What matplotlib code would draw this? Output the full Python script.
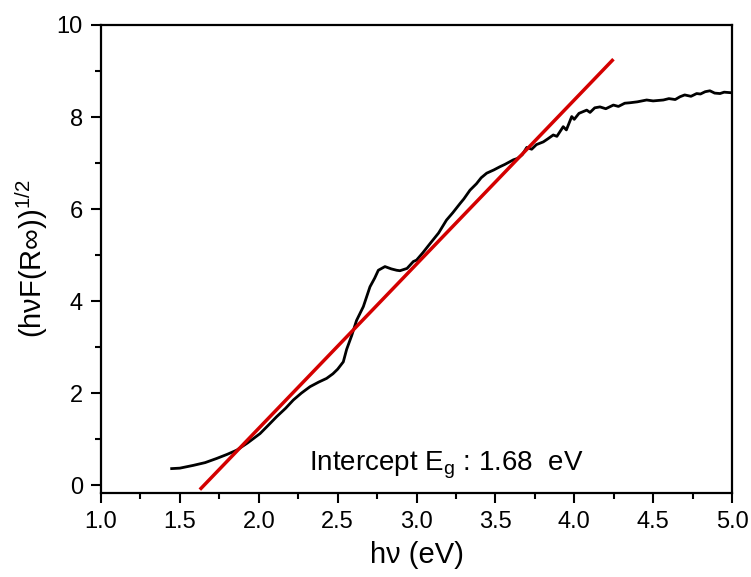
import matplotlib
matplotlib.use("Agg")
import matplotlib.pyplot as plt
import numpy as np

plt.rcParams['font.family'] = ['Liberation Sans', 'DejaVu Sans']
plt.rcParams['mathtext.fontset'] = 'custom'
plt.rcParams['mathtext.rm'] = 'Liberation Sans'
plt.rcParams['mathtext.it'] = 'Liberation Sans'
plt.rcParams['mathtext.sf'] = 'Liberation Sans'

energy = [1.448, 1.50, 1.585, 1.66, 1.733, 1.80, 1.86, 1.93, 2.008, 2.06,
          2.114, 2.17, 2.219, 2.27, 2.325, 2.38, 2.43, 2.47, 2.50, 2.536,
          2.557, 2.589, 2.62, 2.663, 2.705, 2.735, 2.758, 2.80, 2.84, 2.874,
          2.895, 2.94, 2.98, 3.00, 3.04, 3.086, 3.14, 3.19, 3.23, 3.276,
          3.30, 3.339, 3.38, 3.41, 3.445, 3.49, 3.529, 3.56, 3.614, 3.64,
          3.67, 3.699, 3.73, 3.76, 3.804, 3.83, 3.867, 3.89, 3.93, 3.95,
          3.984, 4.00, 4.03, 4.079, 4.10, 4.13, 4.163, 4.20, 4.248, 4.28,
          4.32, 4.353, 4.40, 4.459, 4.50, 4.565, 4.60, 4.64, 4.670, 4.70,
          4.74, 4.776, 4.80, 4.83, 4.86, 4.89, 4.924, 4.95, 4.987]
signal = [0.36, 0.37, 0.43, 0.49, 0.58, 0.67, 0.76, 0.92, 1.12, 1.30,
          1.49, 1.67, 1.85, 2.00, 2.14, 2.24, 2.32, 2.42, 2.52, 2.68,
          2.95, 3.25, 3.58, 3.88, 4.31, 4.50, 4.67, 4.75, 4.70, 4.67,
          4.66, 4.71, 4.86, 4.89, 5.05, 5.25, 5.48, 5.76, 5.92, 6.12,
          6.22, 6.41, 6.55, 6.68, 6.78, 6.85, 6.92, 6.97, 7.07, 7.10,
          7.18, 7.34, 7.30, 7.40, 7.46, 7.52, 7.61, 7.58, 7.79, 7.72,
          8.01, 7.95, 8.08, 8.15, 8.10, 8.20, 8.22, 8.18, 8.26, 8.23,
          8.30, 8.31, 8.33, 8.37, 8.35, 8.37, 8.40, 8.38, 8.44, 8.48,
          8.45, 8.51, 8.50, 8.55, 8.57, 8.52, 8.51, 8.54, 8.53]

# linear fit line (Tauc extrapolation)
fit_x = [1.634, 4.241]
fit_y = [-0.07, 9.23]
eg_text = "Intercept E$_\\mathrm{g}$ : 1.68  eV"

fig = plt.figure(figsize=(7.51, 5.77), dpi=100)
ax = fig.add_axes([0.1345, 0.1456, 0.8402, 0.8111])

ax.plot(energy, signal, color='black', lw=2.0)
ax.plot(fit_x, fit_y, color='#d40000', lw=2.5)

ax.set_xlim(1.0, 5.0)
ax.set_ylim(-0.17, 10)
ax.set_xticks(np.arange(1.0, 5.01, 0.5))
ax.set_xticks(np.arange(1.0, 5.01, 0.25), minor=True)
ax.set_yticks(np.arange(0, 10.1, 2))
ax.set_yticks(np.arange(0, 10.1, 1), minor=True)
ax.set_xticklabels([f"{v:.1f}" for v in np.arange(1.0, 5.01, 0.5)])

ax.tick_params(which='major', direction='out', length=7, width=1.5, labelsize=17, pad=6)
ax.tick_params(which='minor', direction='out', length=4, width=1.5)
ax.tick_params(top=False, right=False, which='both')
for s in ax.spines.values():
    s.set_linewidth(1.6)

ax.set_xlabel("h\u03bd (eV)", fontsize=21, labelpad=6)
ax.set_ylabel("(h\u03bdF(R\u221e))$^{1/2}$", fontsize=21, labelpad=5)

ax.text(3.19, 0.43, eg_text, fontsize=20, ha='center', va='center')

fig.savefig("out.png", dpi=100)
